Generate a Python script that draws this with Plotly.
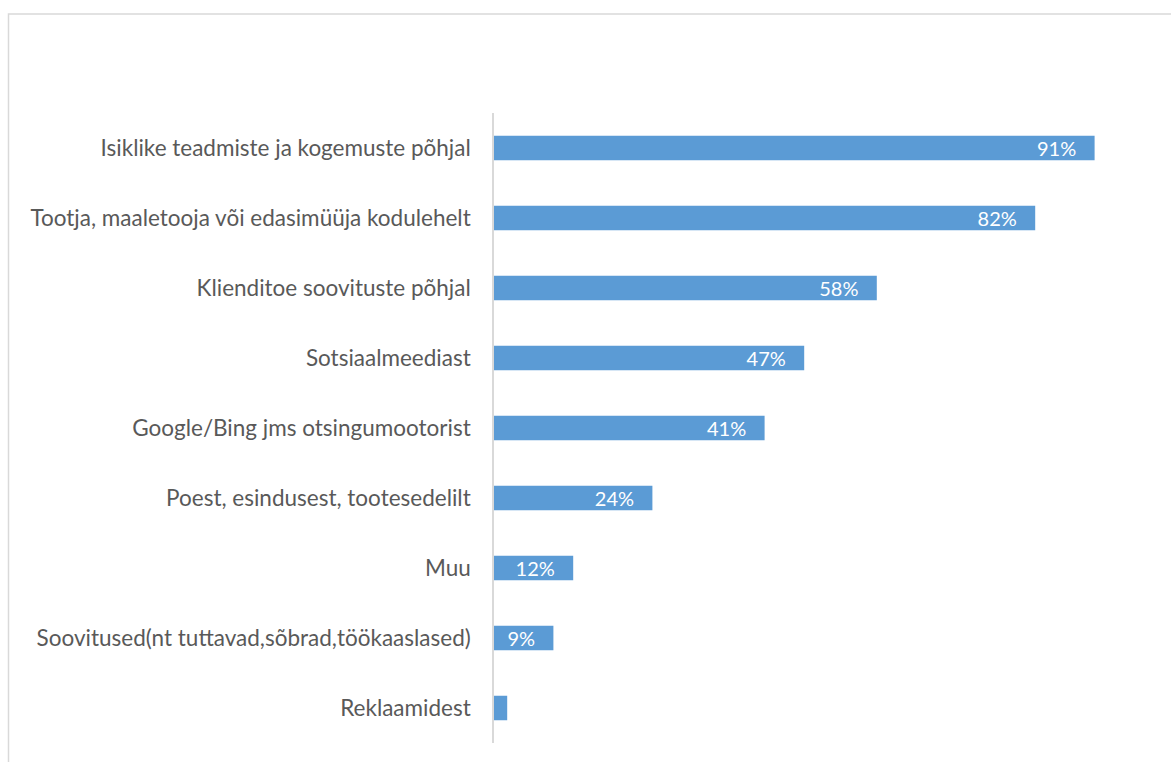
import plotly.graph_objects as go

categories = [
    "Isiklike teadmiste ja kogemuste põhjal",
    "Tootja, maaletooja või edasimüüja kodulehelt",
    "Klienditoe soovituste põhjal",
    "Sotsiaalmeediast",
    "Google/Bing jms otsingumootorist",
    "Poest, esindusest, tootesedelilt",
    "Muu",
    "Soovitused(nt tuttavad,sõbrad,töökaaslased)",
    "Reklaamidest",
]
values = [91, 82, 58, 47, 41, 24, 12, 9, 2]
labels = [f"{v}%\u00a0\u00a0\u00a0" if v >= 5 else "" for v in values]

W, H = 1171, 762
fig = go.Figure(go.Bar(
    y=categories, x=values, orientation="h",
    marker=dict(color="#5b9bd5", line=dict(width=0)),
    text=labels, textposition="inside", insidetextanchor="end",
    constraintext="none",
    textfont=dict(color="white", size=20, family="Lato"),
    cliponaxis=False,
))
fig.update_layout(
    width=W, height=H,
    margin=dict(l=0, r=0, t=0, b=0),
    paper_bgcolor="white", plot_bgcolor="white",
    showlegend=False,
    bargap=0.65,
    font=dict(family="Lato", size=22, color="#595959"),
    xaxis=dict(domain=[494 / W, 1154 / W], range=[0, 100], showgrid=False,
               showticklabels=False, zeroline=False, showline=False, ticks=""),
    yaxis=dict(domain=[1 - 743 / H, 1 - 113 / H], autorange="reversed",
               showgrid=False, zeroline=False, showline=True, linecolor="#d9d9d9",
               linewidth=1.5, ticks="", ticklabelstandoff=17,
               tickfont=dict(family="Lato", size=22.5, color="#595959")),
    shapes=[dict(type="rect", xref="paper", yref="paper",
                 x0=8.5 / W, x1=1.05, y0=-0.05, y1=1 - 14 / H,
                 line=dict(color="#d9d9d9", width=1.5), fillcolor="rgba(0,0,0,0)")],
)
fig.write_html("out.html")
